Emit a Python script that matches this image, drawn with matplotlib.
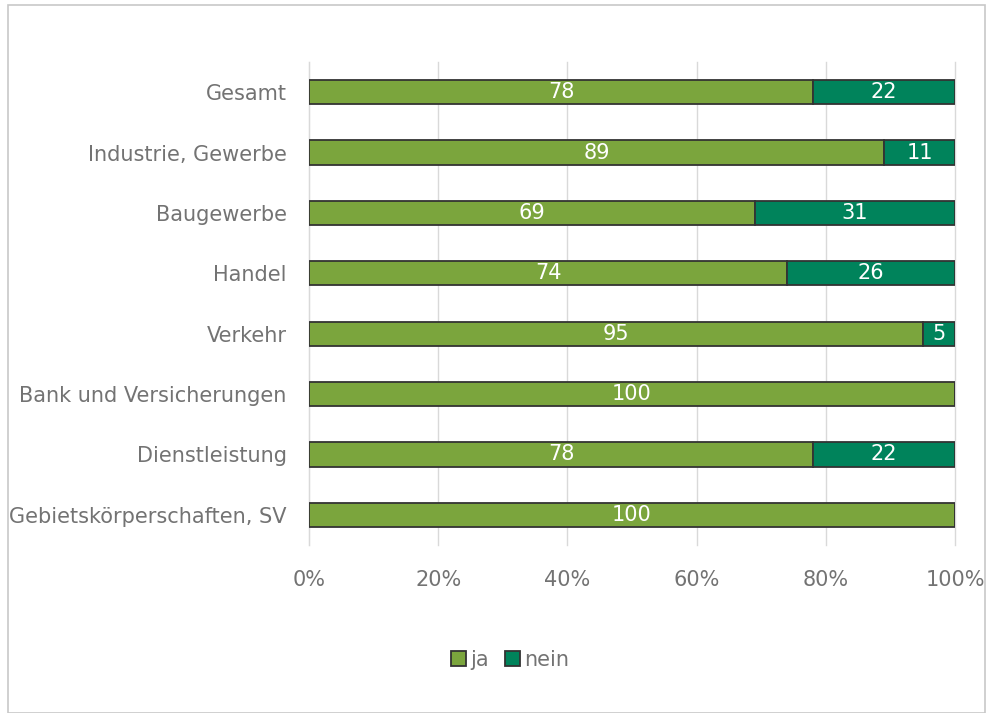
import matplotlib.pyplot as plt
from matplotlib.patches import Rectangle
from matplotlib.ticker import PercentFormatter

categories = [
    "Gesamt",
    "Industrie, Gewerbe",
    "Baugewerbe",
    "Handel",
    "Verkehr",
    "Bank und Versicherungen",
    "Dienstleistung",
    "Gebietskörperschaften, SV",
]
ja = [78, 89, 69, 74, 95, 100, 78, 100]
nein = [22, 11, 31, 26, 5, 0, 22, 0]

color_ja = "#7ba53d"
color_nein = "#00835b"
text_grey = "#737373"
fsize = 15

plt.rcParams["font.family"] = ["DejaVu Sans"]

fig = plt.figure(figsize=(9.86, 7.13), dpi=100)
fig.patches.append(Rectangle((8 / 986, 0), 977 / 986, 708 / 713, transform=fig.transFigure,
                             fill=False, edgecolor="#c8c8c8", linewidth=1.2))
ax = fig.add_axes([309 / 986, 1 - 545 / 713, 646 / 986, 483 / 713])

y = list(range(len(categories)))
bars_ja = ax.barh(y, ja, height=0.4, color=color_ja, edgecolor="#333333", linewidth=1.3, label="ja", zorder=3)
bars_nein = ax.barh(y, nein, left=ja, height=0.4, color=color_nein, edgecolor="#333333", linewidth=1.3,
                    label="nein", zorder=3)

for bars, values in [(bars_ja, ja), (bars_nein, nein)]:
    for rect, val in zip(bars, values):
        if val > 0:
            ax.text(rect.get_x() + rect.get_width() / 2, rect.get_y() + rect.get_height() / 2, str(val),
                    ha="center", va="center", color="white", fontsize=fsize, zorder=4)

ax.set_xlim(0, 100)
ax.set_ylim(len(categories) - 0.5, -0.5)
ax.set_xticks([0, 20, 40, 60, 80, 100])
ax.xaxis.set_major_formatter(PercentFormatter(decimals=0))
ax.set_yticks(y)
ax.set_yticklabels(categories)
ax.tick_params(axis="both", length=0, labelsize=fsize, colors=text_grey)
ax.tick_params(axis="x", pad=18)
ax.tick_params(axis="y", pad=16)
ax.grid(axis="x", color="#d9d9d9", linewidth=1, zorder=0)
for line in ax.get_xgridlines():
    line.set_clip_on(False)
for side in ["top", "right", "bottom"]:
    ax.spines[side].set_visible(False)
ax.spines["left"].set_color("#d9d9d9")

fig.legend(loc="center", bbox_to_anchor=(510 / 986, 1 - 660 / 713), ncol=2, frameon=False,
           fontsize=fsize, labelcolor=text_grey, handlelength=0.7, handleheight=0.7,
           handletextpad=0.2, columnspacing=0.8)

fig.savefig("out.png", dpi=100)
